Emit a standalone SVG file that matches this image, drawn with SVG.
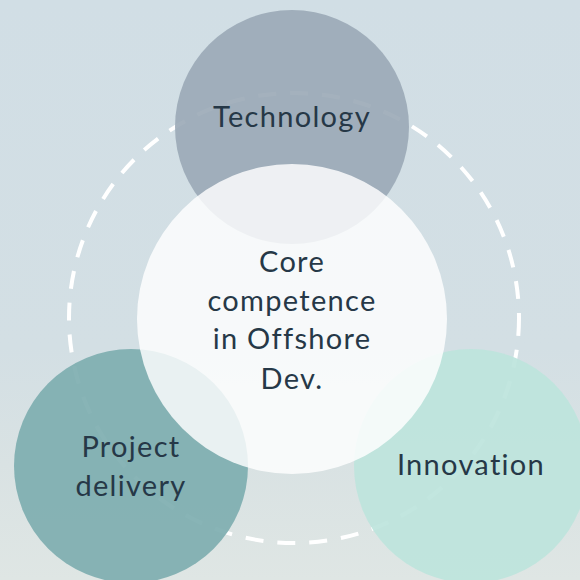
<svg xmlns="http://www.w3.org/2000/svg" width="580" height="580" viewBox="0 0 580 580">
  <defs>
    <linearGradient id="bg" x1="0" y1="0" x2="0" y2="1">
      <stop offset="0" stop-color="#d1dee5"/>
      <stop offset="0.6" stop-color="#d3dfe4"/>
      <stop offset="0.8" stop-color="#d9e2e3"/>
      <stop offset="1" stop-color="#dfe6e4"/>
    </linearGradient>
    <style>
      .lbl { font-family: "Lato", "Noto Sans", "Liberation Sans", sans-serif; font-size: 29px; letter-spacing: 1.3px; fill: #263847; text-anchor: middle; }
      .ring { fill: none; stroke: #ffffff; stroke-width: 4; stroke-dasharray: 18 14; }
    </style>
  </defs>
  <rect x="0" y="0" width="580" height="580" fill="url(#bg)"/>
  <g id="connectors">
    <circle class="ring" cx="294" cy="318" r="225"/>
  </g>
  <g id="technology">
    <circle cx="292" cy="127" r="117" fill="#9aa9b6" fill-opacity="0.9"/>
  </g>
  <g id="project-delivery">
    <circle cx="131" cy="466" r="117" fill="#7eaeb0" fill-opacity="0.92"/>
  </g>
  <g id="innovation">
    <circle cx="471" cy="466" r="117" fill="#bde4dd" fill-opacity="0.93"/>
  </g>
  <g id="core">
    <circle cx="292" cy="319" r="155" fill="#ffffff" fill-opacity="0.82"/>
  </g>
  <g id="labels">
    <text class="lbl" x="292" y="127">Technology</text>
    <text class="lbl" x="292" y="272">Core</text>
    <text class="lbl" x="292" y="311">competence</text>
    <text class="lbl" x="292" y="349">in Offshore</text>
    <text class="lbl" x="292" y="389">Dev.</text>
    <text class="lbl" x="131" y="457">Project</text>
    <text class="lbl" x="131" y="496">delivery</text>
    <text class="lbl" x="471" y="475">Innovation</text>
  </g>
</svg>
